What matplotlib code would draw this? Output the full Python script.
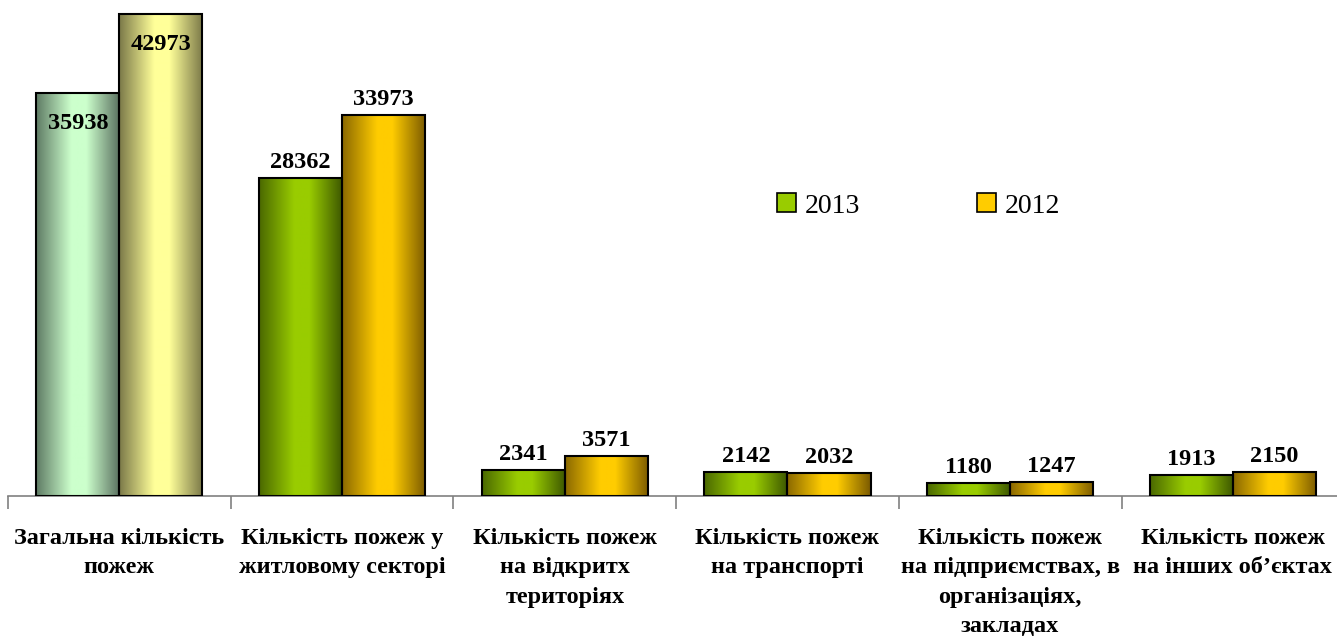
import numpy as np
import matplotlib
matplotlib.use('Agg')
import matplotlib.pyplot as plt
from matplotlib.colors import LinearSegmentedColormap
from matplotlib.patches import Patch

categories = ['Загальна кількість\nпожеж',
              'Кількість пожеж у\nжитловому секторі',
              'Кількість пожеж\nна відкритх\nтериторіях',
              'Кількість пожеж\nна транспорті',
              'Кількість пожеж\nна підприємствах, в\nорганізаціях,\nзакладах',
              'Кількість пожеж\nна інших об’єктах']
vals_2013 = [35938, 28362, 2341, 2142, 1180, 1913]
vals_2012 = [42973, 33973, 3571, 2032, 1247, 2150]
series_names = ['2013', '2012']

plt.rcParams['font.family'] = ['Liberation Serif', 'DejaVu Serif']

# gradient colour stops (left edge, light middle, right edge)
green = LinearSegmentedColormap.from_list('g', [(0, '#4a6800'), (0.42, '#99cc00'), (0.6, '#99cc00'), (1, '#3c5600')])
gold = LinearSegmentedColormap.from_list('y', [(0, '#8a6800'), (0.42, '#ffcc00'), (0.6, '#ffcc00'), (1, '#7a5a00')])
pale_green = LinearSegmentedColormap.from_list('pg', [(0, '#5e7a64'), (0.42, '#ccffcc'), (0.6, '#ccffcc'), (1, '#5a7060')])
pale_yellow = LinearSegmentedColormap.from_list('py', [(0, '#7a7848'), (0.42, '#ffff99'), (0.6, '#ffff99'), (1, '#7a7848')])

fig = plt.figure(figsize=(13.37, 6.39), dpi=100)
ax = fig.add_axes([0.006, 0.2238, 0.9994, 0.7762])

x = np.arange(len(categories))
w = 0.373
grad = np.linspace(0, 1, 256).reshape(1, -1)

def draw(xpos, vals, cmaps):
    bars = ax.bar(xpos, vals, w, facecolor='none', edgecolor='black', linewidth=1.5, zorder=3)
    for b, cm in zip(bars, cmaps):
        x0, y0 = b.get_x(), b.get_y()
        im = ax.imshow(grad, cmap=cm, extent=[x0, x0 + b.get_width(), y0, y0 + b.get_height()],
                       aspect='auto', zorder=2, interpolation='bilinear')
        im.set_clip_path(b)
    return bars

b13 = draw(x - w / 2, vals_2013, [pale_green] + [green] * 5)
b12 = draw(x + w / 2, vals_2012, [pale_yellow] + [gold] * 5)

for bars in (b13, b12):
    for i, b in enumerate(bars):
        h = b.get_height()
        cx = b.get_x() + b.get_width() / 2
        dy = -22 if i == 0 else 11   # first group labelled inside the bar
        ax.annotate(f'{int(h)}', (cx, h), xytext=(0, dy), textcoords='offset points',
                    ha='center', va='center', fontsize=17.5, fontweight='bold')

ax.set_xlim(-0.5, len(categories) - 0.5)
ax.set_ylim(0, 44221)
ax.set_xticks(x, categories, fontsize=17.5, fontweight='bold', linespacing=1.52)
ax.set_xticks(np.arange(len(categories) + 1) - 0.5, minor=True)
ax.tick_params(axis='x', which='major', length=0, pad=23)
ax.tick_params(axis='x', which='minor', length=9, color='#808080', width=1.2)
ax.set_yticks([])
for s in ('left', 'right', 'top'):
    ax.spines[s].set_visible(False)
ax.spines['bottom'].set_color('#808080')
ax.spines['bottom'].set_linewidth(1.2)

handles = [Patch(facecolor='#99cc00', edgecolor='black', linewidth=1.2),
           Patch(facecolor='#ffcc00', edgecolor='black', linewidth=1.2)]
fig.legend(handles, series_names, loc='center left', bbox_to_anchor=(777 / 1337, 1 - 206 / 639),
           ncol=2, frameon=False, fontsize=20, handlelength=0.68, handleheight=0.68,
           handletextpad=0.32, columnspacing=4.2, borderpad=0, borderaxespad=0)

fig.savefig('out.png', dpi=100)
